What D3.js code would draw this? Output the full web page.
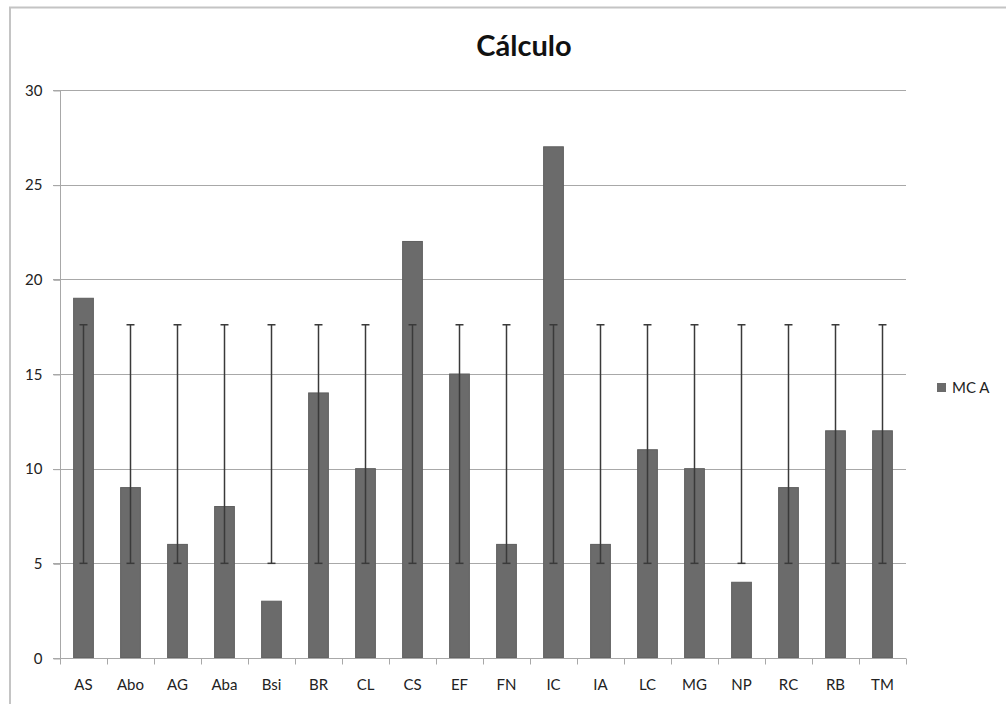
<!DOCTYPE html>
<html>
<head>
<meta charset="utf-8">
<script src="https://cdn.jsdelivr.net/npm/d3@7"></script>
<style>
  body { margin: 0; background: #fff; }
  svg { display: block; font-family: Lato, "Open Sans", sans-serif; }
  .grid line { stroke: #a8a8a8; stroke-width: 1; }
  .axis path, .axis line { stroke: #a8a8a8; }
  .axis text { fill: #222; font-size: 15px; font-family: Lato, "Open Sans", sans-serif; }
</style>
</head>
<body>
<script>
// chart data
var categories = ['AS', 'Abo', 'AG', 'Aba', 'Bsi', 'BR', 'CL', 'CS', 'EF', 'FN', 'IC', 'IA', 'LC', 'MG', 'NP', 'RC', 'RB', 'TM'];
var values = [19, 9, 6, 8, 3, 14, 10, 22, 15, 6, 27, 6, 11, 10, 4, 9, 12, 12];
var errLow = [5, 5, 5, 5, 5, 5, 5, 5, 5, 5, 5, 5, 5, 5, 5, 5, 5, 5];
var errHigh = [17.6, 17.6, 17.6, 17.6, 17.6, 17.6, 17.6, 17.6, 17.6, 17.6, 17.6, 17.6, 17.6, 17.6, 17.6, 17.6, 17.6, 17.6];
var yTicks = [0, 5, 10, 15, 20, 25, 30];
var seriesName = 'MC A';
var title = 'Cálculo';

var width = 1006;
var height = 704;
var margin = {top: 90, left: 60, right: 100, bottom: 46};

var svg = d3.select('body')
  .append('svg')
    .attr('width', width)
    .attr('height', height);

// outer chart frame
svg.append('rect')
  .attr('x', 10)
  .attr('y', 7.5)
  .attr('width', width + 20)
  .attr('height', height + 20)
  .attr('fill', 'none')
  .attr('stroke', '#c4c4c4')
  .attr('stroke-width', 2);

var x = d3.scaleBand()
  .domain(categories)
  .range([margin.left, width - margin.right])
  .paddingInner(0.58)
  .paddingOuter(0.29);

var y = d3.scaleLinear()
  .domain([0, 30])
  .range([height - margin.bottom, margin.top]);

// horizontal gridlines
svg.append('g')
  .attr('class', 'grid')
  .selectAll('line')
  .data(yTicks)
  .enter()
  .append('line')
    .attr('x1', margin.left - 7)
    .attr('x2', width - margin.right)
    .attr('y1', function(d) { return Math.round(y(d)) + 0.5; })
    .attr('y2', function(d) { return Math.round(y(d)) + 0.5; });

// bars
svg.append('g')
  .selectAll('rect')
  .data(values)
  .enter()
  .append('rect')
    .attr('x', function(d, i) { return x(categories[i]); })
    .attr('y', function(d) { return y(d); })
    .attr('width', x.bandwidth())
    .attr('height', function(d) { return y(0) - y(d); })
    .attr('fill', '#6b6b6b')
    .attr('stroke', '#5e5e5e')
    .attr('stroke-width', 1);

// error bars
var err = svg.append('g')
  .attr('stroke', '#3a3a3a')
  .attr('stroke-width', 1.5)
  .selectAll('g')
  .data(categories)
  .enter()
  .append('g');

function cx(d) { return x(d) + x.bandwidth() / 2; }

err.append('line')
  .attr('x1', cx)
  .attr('x2', cx)
  .attr('y1', function(d, i) { return y(errLow[i]); })
  .attr('y2', function(d, i) { return y(errHigh[i]); });

err.append('line')
  .attr('x1', function(d) { return cx(d) - 4; })
  .attr('x2', function(d) { return cx(d) + 4; })
  .attr('y1', function(d, i) { return y(errLow[i]); })
  .attr('y2', function(d, i) { return y(errLow[i]); });

err.append('line')
  .attr('x1', function(d) { return cx(d) - 4; })
  .attr('x2', function(d) { return cx(d) + 4; })
  .attr('y1', function(d, i) { return y(errHigh[i]); })
  .attr('y2', function(d, i) { return y(errHigh[i]); });

// y axis
var yAxis = svg.append('g')
  .attr('class', 'axis')
  .attr('transform', 'translate(' + (margin.left + 0.5) + ',0.5)')
  .call(d3.axisLeft(y).tickValues(yTicks).tickSize(7).tickPadding(11));
yAxis.select('.domain').attr('d', 'M0,' + y(30) + 'V' + y(0));

// x axis
var xTicks = d3.range(categories.length + 1).map(function(i) {
  return margin.left + i * (x.step());
});
var xAxis = svg.append('g')
  .attr('class', 'axis')
  .attr('transform', 'translate(0,' + (Math.round(y(0)) + 0.5) + ')');
xAxis.append('path')
  .attr('d', 'M' + margin.left + ',0H' + (width - margin.right));
xAxis.selectAll('line.tick')
  .data(xTicks)
  .enter()
  .append('line')
    .attr('x1', function(d) { return Math.round(d) + 0.5; })
    .attr('x2', function(d) { return Math.round(d) + 0.5; })
    .attr('y1', 0)
    .attr('y2', 6);
xAxis.selectAll('text')
  .data(categories)
  .enter()
  .append('text')
    .attr('x', cx)
    .attr('y', 31)
    .attr('text-anchor', 'middle')
    .text(function(d) { return d; });

// title
svg.append('text')
  .attr('x', 524)
  .attr('y', 56)
  .attr('text-anchor', 'middle')
  .attr('font-size', 29)
  .attr('font-weight', 'bold')
  .attr('fill', '#111')
  .text(title);

// legend
var legend = svg.append('g')
  .attr('transform', 'translate(937,383)');
legend.append('rect')
  .attr('width', 9)
  .attr('height', 9)
  .attr('fill', '#6b6b6b');
legend.append('text')
  .attr('x', 15)
  .attr('y', 10)
  .attr('font-size', 15)
  .attr('fill', '#222')
  .text(seriesName);
</script>
</body>
</html>
